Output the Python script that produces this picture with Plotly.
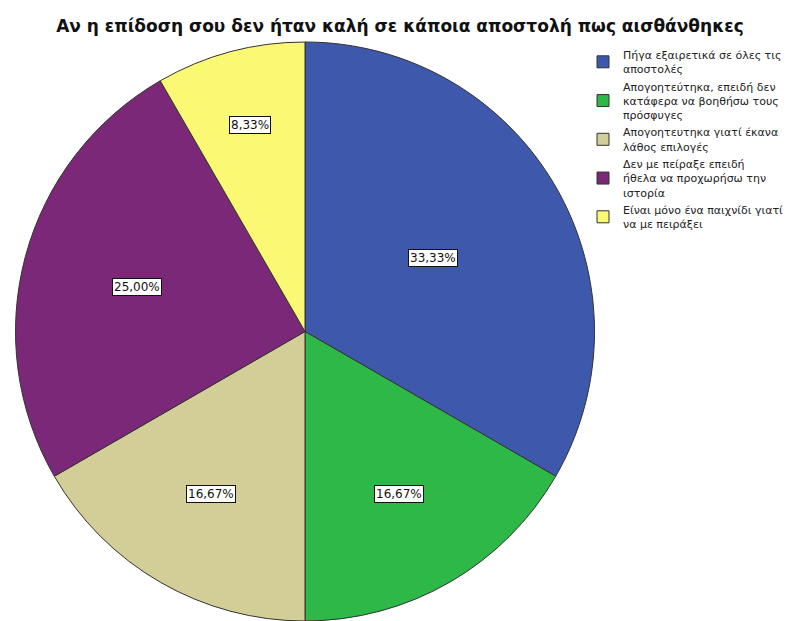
import math
import plotly.graph_objects as go

# Responses (counts) to the question in the title
labels = [
    "Πήγα εξαιρετικά σε όλες τις<br>αποστολές",
    "Απογοητεύτηκα, επειδή δεν<br>κατάφερα να βοηθήσω τους<br>πρόσφυγες",
    "Απογοητευτηκα γιατί έκανα<br>λάθος επιλογές",
    "Δεν με πείραξε επειδή<br>ήθελα να προχωρήσω την<br>ιστορία",
    "Είναι μόνο ένα παιχνίδι γιατί<br>να με πειράξει",
]
counts = [4, 2, 2, 3, 1]
colors = ["#3E58AC", "#2EB848", "#D3CE97", "#7B2878", "#FBF873"]
# radial placement of each percentage box (fraction of radius)
label_radius = [0.51, 0.65, 0.65, 0.60, 0.74]

W, H = 792, 621
top_m = 42
plot_h = H - top_m
R = plot_h / 2
cx = 305
cy = top_m + R

fig = go.Figure(go.Pie(
    labels=labels,
    values=counts,
    sort=False,
    direction="clockwise",
    rotation=0,
    marker=dict(colors=colors, line=dict(color="#333333", width=1)),
    textinfo="none",
    hoverinfo="label+percent",
    domain=dict(x=[(cx - R) / W, (cx + R) / W], y=[0, 1]),
))

# boxed percentage labels placed at each slice's mid-angle
total = sum(counts)
cum = 0
for v, rf in zip(counts, label_radius):
    mid = (cum + v / 2) / total * 2 * math.pi
    cum += v
    px = cx + rf * R * math.sin(mid)
    py = cy - rf * R * math.cos(mid)
    pct = f"{100 * v / total:.2f}%".replace(".", ",")
    fig.add_annotation(
        x=px / W, y=1 - (py - top_m) / plot_h, xref="paper", yref="paper",
        xanchor="center", yanchor="middle",
        text=pct, showarrow=False,
        font=dict(family="DejaVu Sans", size=12, color="#111111"),
        bgcolor="white", bordercolor="#111111", borderwidth=1, borderpad=1,
    )

fig.update_layout(
    width=W, height=H,
    margin=dict(l=0, r=0, t=top_m, b=0),
    paper_bgcolor="white",
    title=dict(
        text="<b>Αν η επίδοση σου δεν ήταν καλή σε κάποια αποστολή πως αισθάνθηκες</b>",
        x=0.505, xanchor="center", y=1 - 26 / H, yanchor="middle", yref="container",
        font=dict(family="DejaVu Sans", size=17, color="#111111"),
    ),
    legend=dict(
        x=583 / W, xanchor="left", y=1 - (41 - top_m) / plot_h, yanchor="top",
        font=dict(family="DejaVu Sans", size=11, color="#222222"),
        bgcolor="rgba(0,0,0,0)", traceorder="normal",
        itemwidth=30,
    ),
    showlegend=True,
)

fig.write_html("out.html")
